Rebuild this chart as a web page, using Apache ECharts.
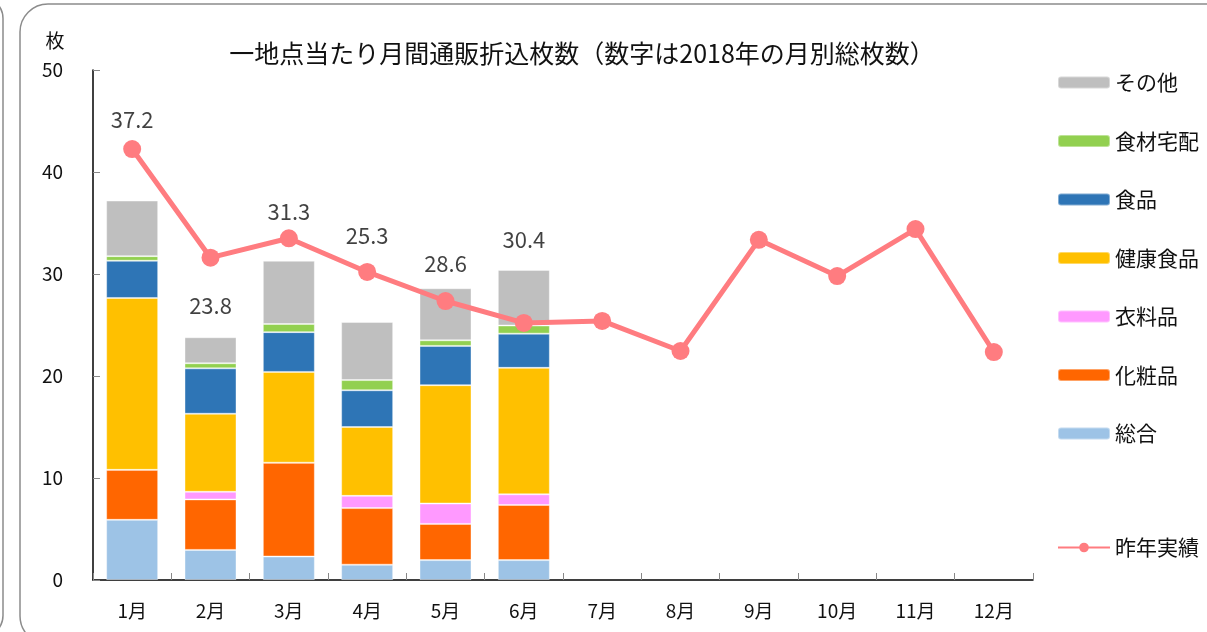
<!DOCTYPE html>
<html>
<head>
<meta charset="UTF-8">
<title>一地点当たり月間通販折込枚数</title>
<script type="text/javascript" src="https://cdn.jsdelivr.net/npm/echarts@6/dist/echarts.min.js"></script>
<style>
html, body { margin: 0; padding: 0; background: #fff; overflow: hidden; }
</style>
</head>
<body>
<div id="main" style="width:1207px; height:632px"></div>
<script type="text/javascript">
// 月
var months = ['1月','2月','3月','4月','5月','6月','7月','8月','9月','10月','11月','12月'];
// 2018年 種類別枚数 (7月以降はデータなし)
var sogo     = [5.9, 2.95, 2.3, 1.5, 1.95, 1.95];
var keshohin = [4.9, 4.95, 9.2, 5.55, 3.55, 5.4];
var iryohin  = [0, 0.75, 0, 1.2, 2.0, 1.05];
var kenko    = [16.85, 7.65, 8.9, 6.75, 11.6, 12.4];
var shokuhin = [3.65, 4.45, 3.9, 3.6, 3.85, 3.35];
var takuhai  = [0.45, 0.5, 0.8, 1.0, 0.55, 0.8];
var sonota   = [5.45, 2.55, 6.2, 5.7, 5.1, 5.45];
// 昨年実績
var lastYear = [42.25, 31.6, 33.5, 30.2, 27.35, 25.2, 25.4, 22.45, 33.35, 29.8, 34.4, 22.35];
// 軸目盛
var yTicks = [0, 10, 20, 30, 40, 50];

// 合計ラベルの位置ずらし (px)
var totalLabelOffsets = [[0, -81], [0, -32], [0, -49], [0, -86], [0, -25], [0, -30]];

var font = '"Noto Sans CJK JP", "Noto Sans", sans-serif';
var txt = '#111';

var barDefs = [
	{name: '総合', data: sogo, color: '#9DC3E6'},
	{name: '化粧品', data: keshohin, color: '#FF6600'},
	{name: '衣料品', data: iryohin, color: '#FF99FF'},
	{name: '健康食品', data: kenko, color: '#FFC000'},
	{name: '食品', data: shokuhin, color: '#2E75B6'},
	{name: '食材宅配', data: takuhai, color: '#92D050'},
	{name: 'その他', data: sonota, color: '#BFBFBF'}
];

var totals = sogo.map(function(v, i){
	var s = 0;
	barDefs.forEach(function(b){ s += b.data[i]; });
	return Math.round(s * 10) / 10;
});

var series = barDefs.map(function(b){
	return {
		name: b.name,
		type: 'bar',
		stack: 'total',
		barWidth: 52,
		data: b.data,
		itemStyle: {color: b.color, borderColor: 'rgba(255,255,255,0.4)', borderWidth: 1},
		emphasis: {disabled: true}
	};
});

series.push({
	name: 'total',
	type: 'scatter',
	symbolSize: 1,
	itemStyle: {color: 'transparent'},
	data: totals.map(function(v, i){
		return {value: v, label: {offset: totalLabelOffsets[i]}};
	}),
	label: {
		show: true,
		position: 'inside',
		fontSize: 22,
		fontFamily: font,
		color: txt,
		formatter: function(p){ return p.value.toFixed(1); }
	},
	z: 5
});

series.push({
	name: '昨年実績',
	type: 'line',
	data: lastYear,
	symbol: 'circle',
	symbolSize: 18,
	lineStyle: {color: '#FF7C80', width: 5},
	itemStyle: {color: '#FF7C80'},
	z: 4
});

var myChart = echarts.init(document.getElementById('main'));
var option = {
	animation: false,
	title: {
		text: '一地点当たり月間通販折込枚数（数字は2018年の月別総枚数）',
		left: 577,
		textAlign: 'center',
		top: 36,
		textStyle: {fontSize: 25, fontWeight: 'normal', color: txt, fontFamily: font}
	},
	legend: [{
		orient: 'vertical',
		left: 1057,
		top: 72,
		padding: 0,
		itemWidth: 52,
		itemHeight: 12,
		itemGap: 37.5,
		data: ['その他','食材宅配','食品','健康食品','衣料品','化粧品','総合'],
		textStyle: {fontSize: 21, color: txt, fontFamily: font}
	}, {
		orient: 'vertical',
		left: 1057,
		top: 537,
		padding: 0,
		itemWidth: 52,
		itemHeight: 12,
		data: ['昨年実績'],
		textStyle: {fontSize: 21, color: txt, fontFamily: font}
	}],
	grid: {left: 93, right: 174, top: 70, bottom: 52, containLabel: false},
	xAxis: {
		type: 'category',
		data: months,
		axisLine: {lineStyle: {color: '#000', width: 1.5}},
		axisTick: {show: true, inside: true, length: 7, lineStyle: {color: '#888'}},
		axisLabel: {fontSize: 19, color: txt, fontFamily: font, margin: 21}
	},
	yAxis: {
		type: 'value',
		min: yTicks[0],
		max: yTicks[yTicks.length - 1],
		interval: yTicks[1] - yTicks[0],
		name: '枚',
		nameLocation: 'end',
		nameGap: 20,
		nameTextStyle: {fontSize: 19, color: txt, fontFamily: font, padding: [0, 76, 0, 0]},
		axisLine: {show: true, lineStyle: {color: '#000', width: 1.5}},
		axisTick: {show: true, inside: true, length: 7, lineStyle: {color: '#888'}},
		axisLabel: {fontSize: 19, color: txt, fontFamily: font, margin: 30},
		splitLine: {show: false}
	},
	graphic: [{
		type: 'rect',
		shape: {x: 20, y: 4, width: 1300, height: 640, r: 28},
		style: {fill: 'none', stroke: '#8c8c8c', lineWidth: 1.5},
		silent: true
	}, {
		type: 'rect',
		shape: {x: -40, y: -3, width: 43, height: 640, r: 28},
		style: {fill: 'none', stroke: '#8c8c8c', lineWidth: 1.5},
		silent: true
	}],
	series: series
};
myChart.setOption(option);
</script>
</body>
</html>
